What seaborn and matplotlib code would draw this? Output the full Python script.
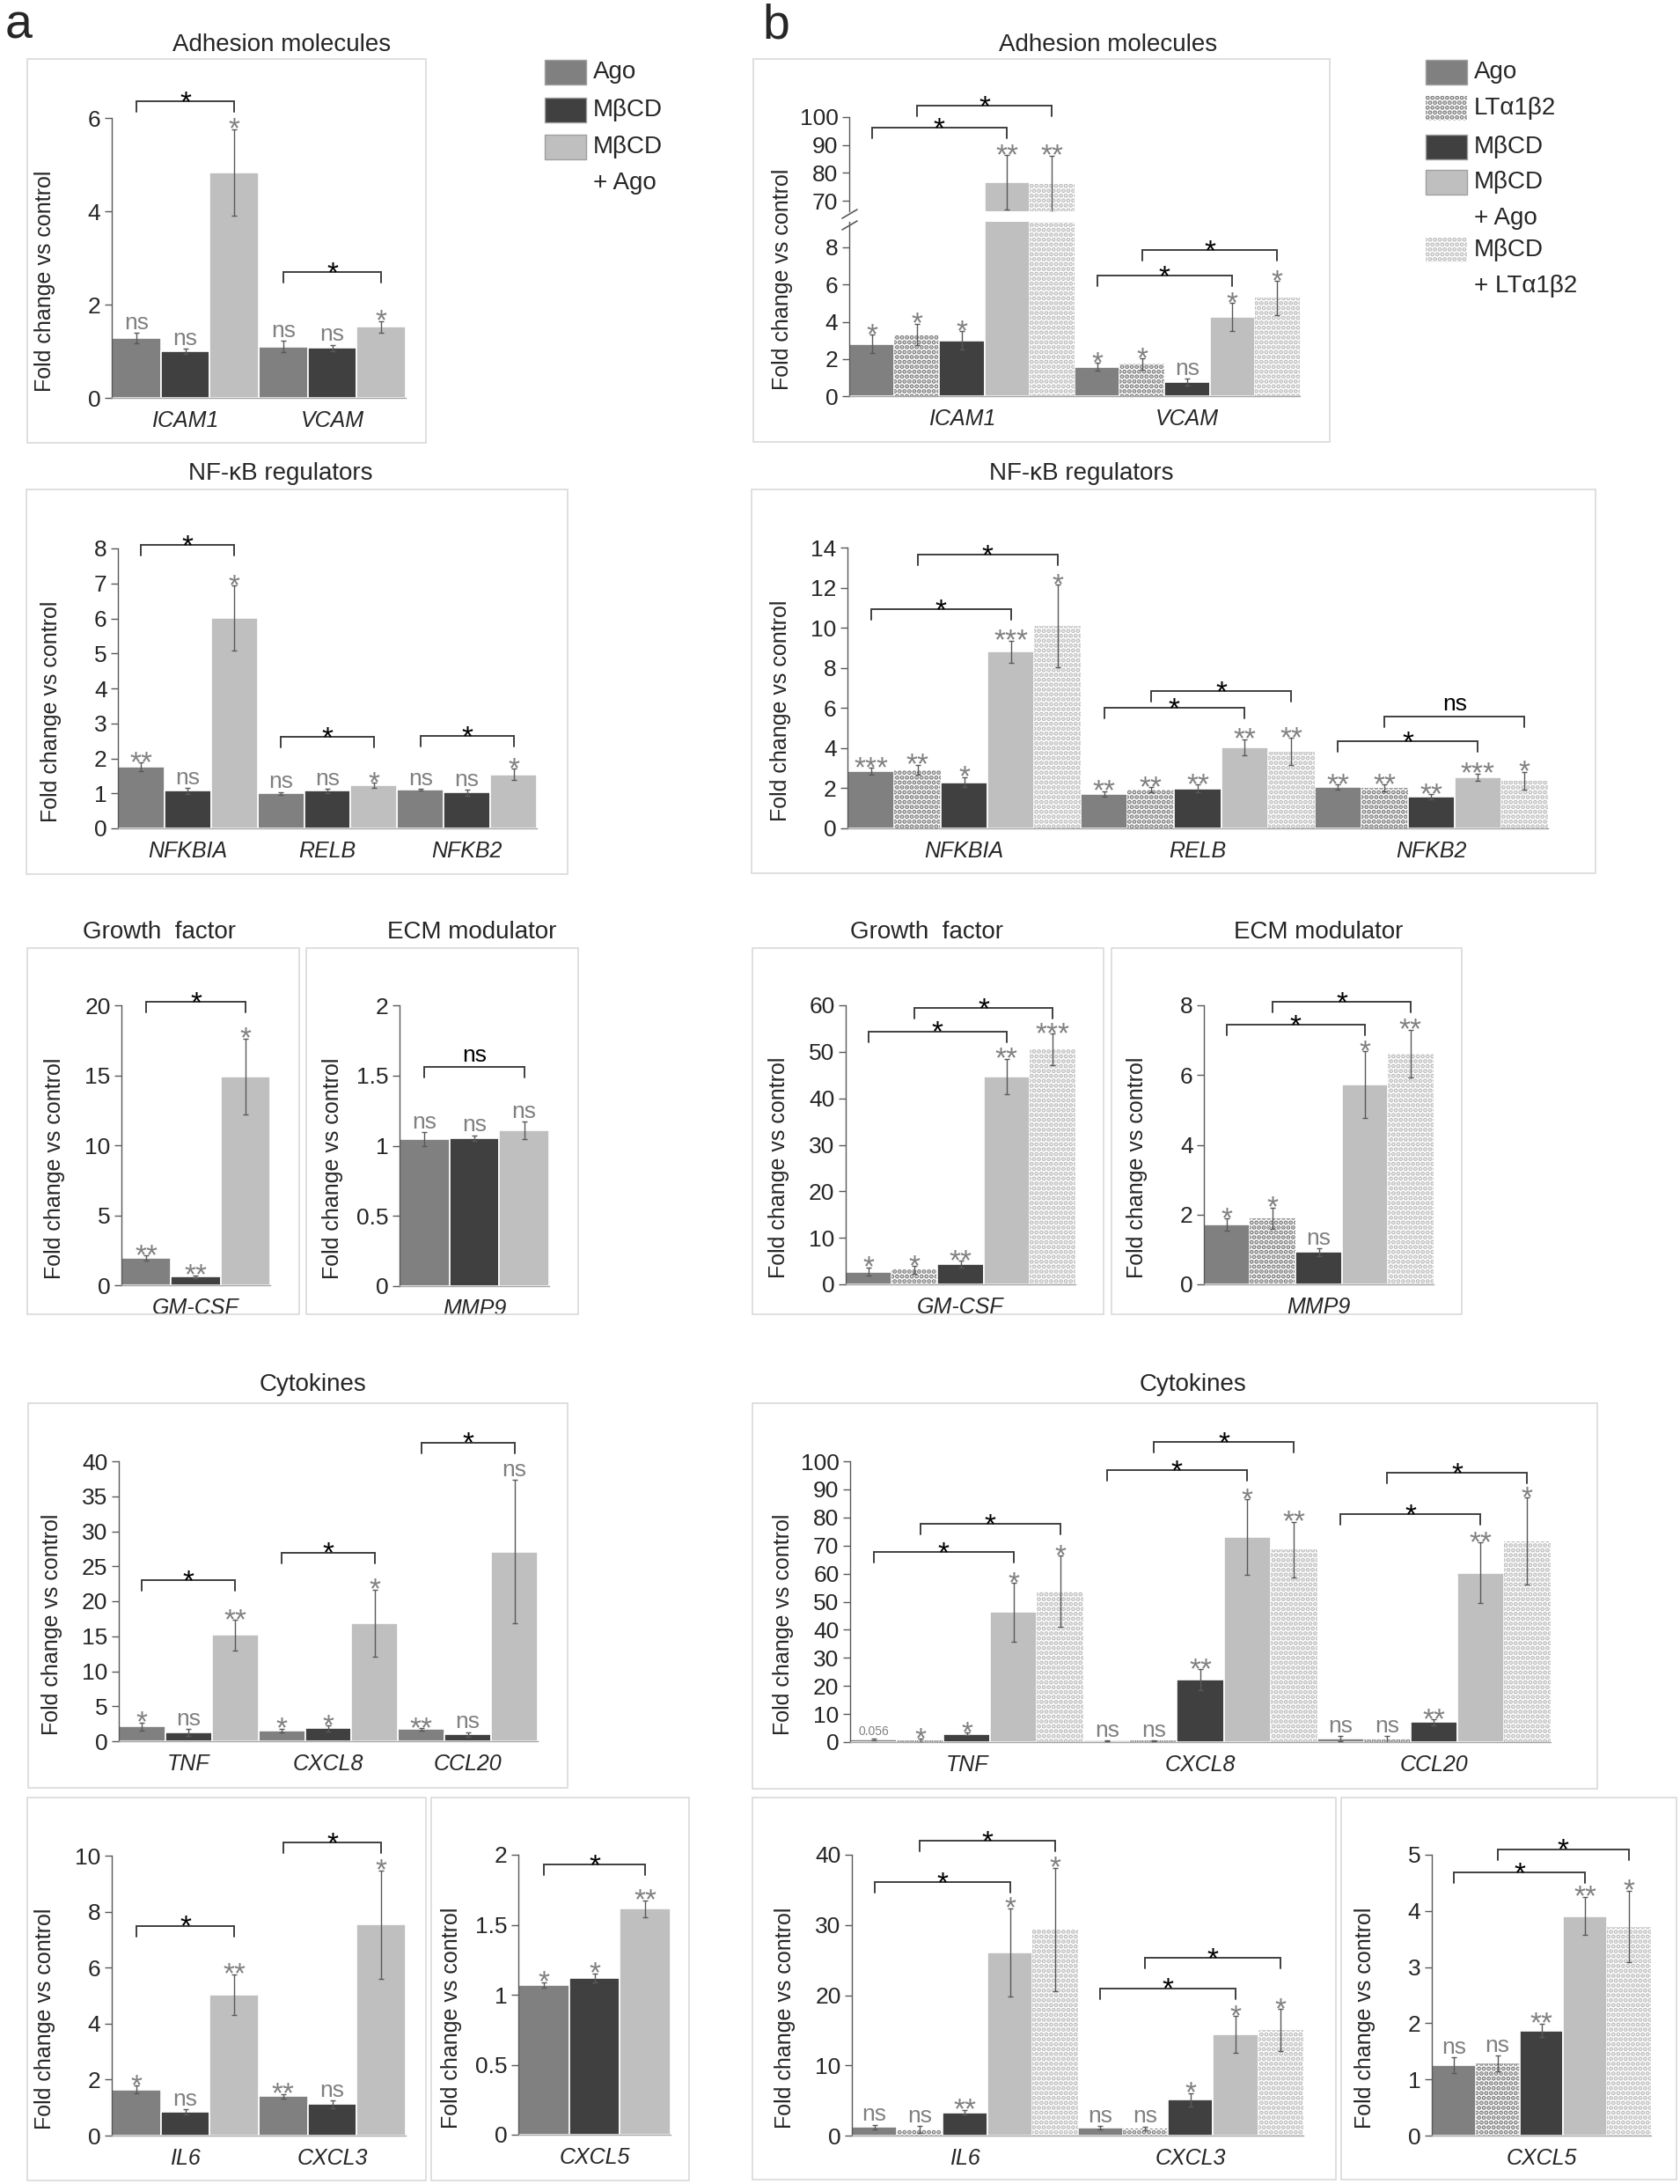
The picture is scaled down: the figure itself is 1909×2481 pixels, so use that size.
import matplotlib
matplotlib.use("Agg")
import matplotlib.pyplot as plt
from matplotlib.lines import Line2D
from matplotlib.patches import Rectangle
import numpy as np
import pandas as pd
import seaborn as sns

sns.set_theme(style="white")
plt.rcParams["font.family"] = ["Liberation Sans", "DejaVu Sans"]
plt.rcParams["hatch.linewidth"] = 2.6
plt.rcParams["axes.facecolor"] = "none"

W, H = 1909, 2481

# treatments
treats_a = ["Ago", "MβCD", "MβCD + Ago"]
treats_b = ["Ago", "LTα1β2", "MβCD", "MβCD + Ago", "MβCD + LTα1β2"]

FACE = {"Ago": "#808080", "LTα1β2": "white", "MβCD": "#404040",
        "MβCD + Ago": "#bfbfbf", "MβCD + LTα1β2": "white"}
PATTERN = {"LTα1β2": "#777777", "MβCD + LTα1β2": "#bbbbbb"}
HATCH = "..."
ERR_C = "#595959"
SIG_C = "#808080"
BR_C = "#3f3f3f"
FRAME_C = "#d9d9d9"

# ---- panel a data ----
adh_genes = ["ICAM1", "VCAM"]
adh_a_mean = [[1.28, 1.00, 4.83], [1.10, 1.07, 1.52]]
adh_a_err = [[0.11, 0.05, 0.93], [0.12, 0.07, 0.13]]
adh_a_sig = [["ns", "ns", "*"], ["ns", "ns", "*"]]
adh_a_br = [(0, 0, 2, 6.36, "*"), (1, 0, 2, 2.69, "*")]

nf_genes = ["NFKBIA", "RELB", "NFKB2"]
nf_a_mean = [[1.76, 1.07, 6.01], [1.00, 1.07, 1.23], [1.11, 1.02, 1.54]]
nf_a_err = [[0.12, 0.08, 0.93], [0.04, 0.07, 0.07], [0.02, 0.08, 0.16]]
nf_a_sig = [["**", "ns", "*"], ["ns", "ns", "*"], ["ns", "ns", "*"]]
nf_a_br = [(0, 0, 2, 8.09, "*"), (1, 0, 2, 2.62, "*"), (2, 0, 2, 2.63, "*")]

gf_genes = ["GM-CSF"]
gf_a_mean = [[1.93, 0.61, 14.93]]
gf_a_err = [[0.2, 0.1, 2.7]]
gf_a_sig = [["**", "**", "*"]]
gf_a_br = [(0, 0, 2, 20.27, "*")]

ecm_genes = ["MMP9"]
ecm_a_mean = [[1.045, 1.055, 1.11]]
ecm_a_err = [[0.05, 0.02, 0.06]]
ecm_a_sig = [["ns", "ns", "ns"]]
ecm_a_br = [(0, 0, 2, 1.558, "ns")]

cyt_genes = ["TNF", "CXCL8", "CCL20"]
cyt_a_mean = [[2.09, 1.30, 15.16], [1.51, 1.84, 16.84], [1.72, 0.96, 27.1]]
cyt_a_err = [[0.55, 0.5, 2.15], [0.3, 0.4, 4.8], [0.15, 0.35, 10.3]]
cyt_a_sig = [["*", "ns", "**"], ["*", "*", "*"], ["**", "ns", "ns"]]
cyt_a_br = [(0, 0, 2, 23.0, "*"), (1, 0, 2, 26.97, "*"), (2, 0, 2, 42.7, "*")]

il_genes = ["IL6", "CXCL3"]
il_a_mean = [[1.65, 0.84, 5.04], [1.41, 1.12, 7.54]]
il_a_err = [[0.13, 0.10, 0.73], [0.08, 0.14, 1.93]]
il_a_sig = [["*", "ns", "**"], ["**", "ns", "*"]]
il_a_br = [(0, 0, 2, 7.5, "*"), (1, 0, 2, 10.48, "*")]

cx5_genes = ["CXCL5"]
cx5_a_mean = [[1.069, 1.121, 1.615]]
cx5_a_err = [[0.02, 0.03, 0.06]]
cx5_a_sig = [["*", "*", "**"]]
cx5_a_br = [(0, 0, 2, 1.93, "*")]

# ---- panel b data ----
adh_b_mean = [[2.81, 3.31, 3.00, 76.6, 76.0], [1.58, 1.73, 0.76, 4.26, 5.28]]
adh_b_err = [[0.5, 0.58, 0.5, 9.8, 10.2], [0.2, 0.29, 0.18, 0.74, 0.91]]
adh_b_sig = [["*", "*", "*", "**", "**"], ["*", "*", "ns", "*", "*"]]
adh_b_br = [(0, 0, 3, 96.1, "*"), (0, 1, 4, 104.0, "*"),
            (1, 0, 3, 6.5, "*"), (1, 1, 4, 7.85, "*")]

nf_b_mean = [[2.84, 2.91, 2.30, 8.81, 10.09], [1.71, 1.93, 1.99, 4.05, 3.83],
             [2.06, 2.02, 1.57, 2.56, 2.37]]
nf_b_err = [[0.17, 0.25, 0.25, 0.55, 2.05], [0.15, 0.12, 0.2, 0.4, 0.68],
            [0.13, 0.16, 0.12, 0.18, 0.45]]
nf_b_sig = [["***", "**", "*", "***", "*"], ["**", "**", "**", "**", "**"],
            ["**", "**", "**", "***", "*"]]
nf_b_br = [(0, 0, 3, 10.93, "*"), (0, 1, 4, 13.63, "*"), (1, 0, 3, 6.0, "*"),
           (1, 1, 4, 6.83, "*"), (2, 0, 3, 4.34, "*"), (2, 1, 4, 5.59, "ns")]

gf_b_mean = [[2.71, 3.15, 4.29, 44.67, 50.5]]
gf_b_err = [[0.9, 0.8, 0.75, 3.8, 3.35]]
gf_b_sig = [["*", "*", "**", "**", "***"]]
gf_b_br = [(0, 0, 3, 54.4, "*"), (0, 1, 4, 59.4, "*")]

ecm_b_mean = [[1.71, 1.90, 0.93, 5.72, 6.62]]
ecm_b_err = [[0.18, 0.3, 0.11, 0.96, 0.68]]
ecm_b_sig = [["*", "*", "ns", "*", "**"]]
ecm_b_br = [(0, 0, 3, 7.45, "*"), (0, 1, 4, 8.10, "*")]

cyt_b_mean = [[0.84, 0.5, 2.92, 46.24, 53.76], [0.5, 0.5, 22.2, 73.1, 68.5],
              [1.25, 0.84, 7.1, 60.3, 71.5]]
cyt_b_err = [[0.3, 0.7, 0.5, 10.4, 12.6], [0.2, 0.2, 3.7, 13.4, 10.0],
             [0.9, 1.4, 1.0, 10.8, 15.5]]
cyt_b_sig = [["0.056", "*", "*", "*", "*"], ["ns", "ns", "**", "*", "**"],
             ["ns", "ns", "**", "**", "*"]]
cyt_b_br = [(0, 0, 3, 67.8, "*"), (0, 1, 4, 77.8, "*"), (1, 0, 3, 96.9, "*"),
            (1, 1, 4, 106.8, "*"), (2, 0, 3, 81.2, "*"), (2, 1, 4, 95.8, "*")]

il_b_mean = [[1.21, 0.92, 3.31, 26.05, 29.32], [1.13, 1.00, 5.11, 14.41, 15.04]]
il_b_err = [[0.35, 0.5, 0.35, 6.3, 8.8], [0.2, 0.3, 0.95, 2.6, 3.0]]
il_b_sig = [["ns", "ns", "**", "*", "*"], ["ns", "ns", "*", "*", "*"]]
il_b_br = [(0, 0, 3, 36.1, "*"), (0, 1, 4, 42.0, "*"),
           (1, 0, 3, 21.0, "*"), (1, 1, 4, 25.3, "*")]

cx5_b_mean = [[1.25, 1.29, 1.87, 3.91, 3.72]]
cx5_b_err = [[0.14, 0.14, 0.12, 0.34, 0.64]]
cx5_b_sig = [["ns", "ns", "**", "**", "*"]]
cx5_b_br = [(0, 0, 3, 4.69, "*"), (0, 1, 4, 5.10, "*")]

fig = plt.figure(figsize=(W / 100, H / 100), dpi=100)


def add_ax(left, top, right, bottom):
    return fig.add_axes([left / W, 1 - bottom / H, (right - left) / W, (bottom - top) / H])


def px_per_unit(ax):
    t = ax.transData
    return t.transform((0, 1))[1] - t.transform((0, 0))[1]


def draw_bars(ax, genes, treats, mean, err):
    df = pd.DataFrame({
        "gene": [g for g in genes for _ in treats],
        "treat": [t for _ in genes for t in treats],
        "value": [v for row in mean for v in row],
    })
    sns.barplot(data=df, x="gene", y="value", hue="treat", order=genes,
                hue_order=treats, palette=[FACE[t] for t in treats],
                errorbar=None, width=1, gap=0, saturation=1, legend=False, ax=ax)
    conts = list(ax.containers)
    centers = np.zeros((len(genes), len(treats)))
    for k, (t, cont) in enumerate(zip(treats, conts)):
        for g, p in enumerate(cont):
            if t in PATTERN:
                p.set_facecolor("white")
                p.set_edgecolor(PATTERN[t])
                p.set_hatch(HATCH)
                p.set_linewidth(0)
            else:
                p.set_edgecolor("white")
                p.set_linewidth(1.2)
            centers[g, k] = p.get_x() + p.get_width() / 2
    ax.errorbar(centers.ravel(), np.ravel(mean), yerr=np.ravel(err), fmt="none",
                ecolor=ERR_C, elinewidth=1.0, capsize=2.5, capthick=1.0, zorder=3)
    ax.set_xlabel("")
    ax.set_ylabel("")
    ax.set_xlim(-0.5, len(genes) - 0.5)
    return centers


def sig_text(ax, x, y, s):
    if s.startswith("*"):
        fs, dy = 24, -7
    elif s == "ns":
        fs, dy = 19, 3
    else:
        fs, dy = 10, 3
    ax.annotate(s, (x, y), xytext=(0, dy), textcoords="offset points",
                ha="center", va="baseline", fontsize=fs, color=SIG_C,
                annotation_clip=False)


def bracket(ax, x1, x2, y, s):
    leg = 12 / px_per_unit(ax)
    ax.plot([x1, x1, x2, x2], [y - leg, y, y, y - leg], color=BR_C, lw=1.4,
            clip_on=False, solid_joinstyle="miter")
    if s == "ns":
        fs, dy = 19, 5
    else:
        fs, dy = 24, -8
    ax.annotate(s, ((x1 + x2) / 2, y), xytext=(0, dy), textcoords="offset points",
                ha="center", va="baseline", fontsize=fs, color="black",
                annotation_clip=False)


def style_axis(ax, ticks, lims, genes, show_x=True):
    ax.set_ylim(*lims)
    for s in ["top", "right"]:
        ax.spines[s].set_visible(False)
    ax.spines["left"].set_color(ERR_C)
    ax.spines["left"].set_linewidth(1.0)
    ax.spines["left"].set_bounds(lims[0] if lims[0] > 0 else 0, ticks[-1])
    ax.set_yticks(ticks)
    ax.set_yticklabels([f"{t:g}" for t in ticks], fontsize=19)
    ax.tick_params(axis="y", direction="out", length=6, width=1, color=ERR_C,
                   pad=3, left=True)
    if show_x:
        ax.spines["bottom"].set_color("#a6a6a6")
        ax.spines["bottom"].set_linewidth(1.0)
        ax.set_xticks(range(len(genes)))
        ax.set_xticklabels(genes, fontstyle="italic", fontsize=18)
        ax.tick_params(axis="x", length=0, pad=10)
    else:
        ax.spines["bottom"].set_visible(False)
        ax.set_xticks([])


def frame(box, title=None, tx=None, ty=None):
    l, t, r, b = box
    fig.add_artist(Rectangle((l / W, 1 - b / H), (r - l) / W, (b - t) / H,
                             transform=fig.transFigure, fill=False, ec=FRAME_C, lw=1.2))
    if title:
        fig.text(tx / W, 1 - ty / H, title, ha="center", va="center", fontsize=20)


def ylabel(axis_left, y0, ytop):
    fig.text((axis_left - 76) / W, 1 - ((y0 + ytop) / 2 + 26) / H,
             "Fold change vs control", rotation=90, ha="center", va="center",
             fontsize=18)


def panel(box, axis_left, bars_right, y0, ref_px, ref_val, ticks, genes, treats,
          mean, err, sig, brs, title=None, tx=None, ty=None):
    frame(box, title, tx, ty)
    top = box[1] + 4
    ax = add_ax(axis_left, top, bars_right, y0)
    scale = (y0 - ref_px) / ref_val
    lims = (0, (y0 - top) / scale)
    centers = draw_bars(ax, genes, treats, mean, err)
    style_axis(ax, ticks, lims, genes)
    for g in range(len(genes)):
        for k in range(len(treats)):
            if sig[g][k]:
                sig_text(ax, centers[g, k], mean[g][k] + err[g][k], sig[g][k])
    for g, i, j, y, s in brs:
        bracket(ax, centers[g, i], centers[g, j], y, s)
    ylabel(axis_left, y0, y0 - ticks[-1] * scale)
    return ax


# ---------------- panel a ----------------
panel((31, 67, 484, 503), 127, 461, 452, 134, 6, [0, 2, 4, 6], adh_genes, treats_a,
      adh_a_mean, adh_a_err, adh_a_sig, adh_a_br, "Adhesion molecules", 320, 51)
panel((30, 556, 645, 993), 134, 610, 941, 623, 8, list(range(0, 9)), nf_genes, treats_a,
      nf_a_mean, nf_a_err, nf_a_sig, nf_a_br, "NF-κB regulators", 319, 538)
panel((31, 1077, 340, 1493), 138, 307, 1460, 1142, 20, [0, 5, 10, 15, 20], gf_genes,
      treats_a, gf_a_mean, gf_a_err, gf_a_sig, gf_a_br, "Growth  factor", 181, 1059)
panel((348, 1077, 657, 1493), 454, 624, 1461, 1142, 2, [0, 0.5, 1, 1.5, 2], ecm_genes,
      treats_a, ecm_a_mean, ecm_a_err, ecm_a_sig, ecm_a_br, "ECM modulator", 536, 1059)
panel((32, 1594, 645, 2031), 135, 611, 1978, 1660, 40, list(range(0, 41, 5)), cyt_genes,
      treats_a, cyt_a_mean, cyt_a_err, cyt_a_sig, cyt_a_br, "Cytokines", 356, 1573)
panel((31, 2042, 484, 2477), 127, 461, 2426, 2108, 10, list(range(0, 11, 2)), il_genes,
      treats_a, il_a_mean, il_a_err, il_a_sig, il_a_br)
panel((490, 2042, 783, 2477), 589, 762, 2425, 2107, 2, [0, 0.5, 1, 1.5, 2], cx5_genes,
      treats_a, cx5_a_mean, cx5_a_err, cx5_a_sig, cx5_a_br)

# ---------------- panel b ----------------
# adhesion with broken axis
frame((856, 67, 1511, 502), "Adhesion molecules", 1259, 51)
lo_y0, lo_top = 450, 252
lo_scale = (450 - 281) / 8
ax_lo = add_ax(965, lo_top, 1477, lo_y0)
lo_lims = (0, (lo_y0 - lo_top) / lo_scale)
up_bot, up_top = 240, 72
up_scale = (228 - 133) / 30
up_lims = (70 - (up_bot - 228) / up_scale, 70 + (228 - up_top) / up_scale)
ax_up = add_ax(965, up_top, 1477, up_bot)
c_lo = draw_bars(ax_lo, adh_genes, treats_b, adh_b_mean, adh_b_err)
c_up = draw_bars(ax_up, adh_genes, treats_b, adh_b_mean, adh_b_err)
style_axis(ax_lo, [0, 2, 4, 6, 8], lo_lims, adh_genes)
ax_lo.spines["left"].set_bounds(0, lo_lims[1])
style_axis(ax_up, [70, 80, 90, 100], up_lims, adh_genes, show_x=False)
ax_up.spines["left"].set_bounds(up_lims[0], 100)
for g in range(len(adh_genes)):
    for k in range(len(treats_b)):
        top_v = adh_b_mean[g][k] + adh_b_err[g][k]
        a = ax_up if top_v > lo_lims[1] else ax_lo
        sig_text(a, c_lo[g, k], top_v, adh_b_sig[g][k])
for g, i, j, y, s in adh_b_br:
    a = ax_up if y > lo_lims[1] else ax_lo
    bracket(a, c_lo[g, i], c_lo[g, j], y, s)
for yy in (243, 256):
    fig.add_artist(Line2D([957 / W, 974 / W], [1 - (yy + 5) / H, 1 - (yy - 5) / H],
                          transform=fig.transFigure, color=ERR_C, lw=1.2))
ylabel(965, lo_y0, 133)

panel((854, 556, 1813, 992), 963, 1759, 941, 622, 14, list(range(0, 15, 2)), nf_genes,
      treats_b, nf_b_mean, nf_b_err, nf_b_sig, nf_b_br, "NF-κB regulators", 1229, 538)
panel((855, 1077, 1254, 1493), 961, 1222, 1459, 1142, 60, list(range(0, 61, 10)),
      gf_genes, treats_b, gf_b_mean, gf_b_err, gf_b_sig, gf_b_br, "Growth  factor", 1053, 1059)
panel((1263, 1077, 1661, 1493), 1368, 1629, 1459, 1142, 8, [0, 2, 4, 6, 8], ecm_genes,
      treats_b, ecm_b_mean, ecm_b_err, ecm_b_sig, ecm_b_br, "ECM modulator", 1498, 1059)
panel((855, 1594, 1815, 2032), 966, 1762, 1979, 1660, 100, list(range(0, 101, 10)),
      cyt_genes, treats_b, cyt_b_mean, cyt_b_err, cyt_b_sig, cyt_b_br, "Cytokines", 1355, 1573)
panel((855, 2042, 1518, 2476), 968, 1481, 2426, 2107, 40, list(range(0, 41, 10)), il_genes,
      treats_b, il_b_mean, il_b_err, il_b_sig, il_b_br)
panel((1524, 2042, 1905, 2476), 1627, 1876, 2426, 2107, 5, list(range(0, 6)), cx5_genes,
      treats_b, cx5_b_mean, cx5_b_err, cx5_b_sig, cx5_b_br)


# ---------------- legends ----------------
def legend(treats, x, ys):
    for t, y in zip(treats, ys):
        if t in PATTERN:
            rect = Rectangle((x / W, 1 - (y + 14) / H), 47 / W, 28 / H,
                             transform=fig.transFigure, facecolor="white",
                             edgecolor=PATTERN[t], hatch=HATCH, lw=0)
        else:
            rect = Rectangle((x / W, 1 - (y + 14) / H), 47 / W, 28 / H,
                             transform=fig.transFigure, facecolor=FACE[t],
                             edgecolor="#a0a0a0", lw=1)
        fig.add_artist(rect)
        for i, line in enumerate(t.replace(" + ", "\n+ ").split("\n")):
            fig.text((x + 55) / W, 1 - (y + i * 41) / H, line, ha="left",
                     va="center", fontsize=20)


legend(treats_a, 619, [82, 125, 167])
legend(treats_b, 1620, [82, 123, 167, 207, 284])

fig.text(6 / W, 1 - 43 / H, "a", fontsize=40, ha="left", va="baseline")
fig.text(866 / W, 1 - 43 / H, "b", fontsize=40, ha="left", va="baseline")

fig.savefig("out.png", dpi=100, facecolor="white")
